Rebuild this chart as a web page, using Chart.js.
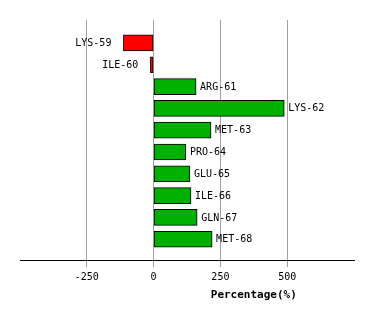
<!DOCTYPE html>
<html>
<head>
<meta charset="utf-8">
<script src="https://cdn.jsdelivr.net/npm/chart.js@4"></script>
<style>
  html, body { margin: 0; padding: 0; background: #fff; }
  canvas { display: block; }
</style>
</head>
<body>
<canvas id="chart" width="374" height="320"></canvas>
<script>
const residues = ['LYS-59', 'ILE-60', 'ARG-61', 'LYS-62', 'MET-63', 'PRO-64', 'GLU-65', 'ILE-66', 'GLN-67', 'MET-68'];
const percentages = [-113, -12, 159, 489, 215, 121, 136, 140, 163, 219];
const tickValues = [-250, 0, 250, 500];
const axisTitle = 'Percentage(%)';

const MONO = '"DejaVu Sans Mono", "Liberation Mono", monospace';

// residue names next to the end of each bar
const barLabels = {
    id: 'barLabels',
    afterDatasetsDraw(chart) {
        const ctx = chart.ctx;
        const meta = chart.getDatasetMeta(0);
        ctx.save();
        ctx.font = '10px ' + MONO;
        ctx.fillStyle = '#000';
        ctx.textBaseline = 'middle';
        meta.data.forEach((bar, i) => {
            if (percentages[i] >= 0) {
                ctx.textAlign = 'left';
                ctx.fillText(residues[i], bar.x + 4, bar.y + 0.5);
            } else {
                ctx.textAlign = 'right';
                ctx.fillText(residues[i], bar.x - 12, bar.y + 0.5);
            }
        });
        ctx.restore();
    },
};

// axis title sits right of centre in the original
const xTitle = {
    id: 'xTitle',
    afterDraw(chart) {
        const { ctx, chartArea } = chart;
        ctx.save();
        ctx.font = 'bold 11px ' + MONO;
        ctx.fillStyle = '#000';
        ctx.textAlign = 'center';
        ctx.textBaseline = 'middle';
        ctx.fillText(axisTitle, chartArea.left + (chartArea.right - chartArea.left) * 0.7, 295);
        ctx.restore();
    },
};

new Chart(document.getElementById('chart'), {
    type: 'bar',
    data: {
        datasets: [{
            data: percentages.map((v, i) => ({ x: v, y: i + 1 })),
            backgroundColor: percentages.map((v) => (v < 0 ? '#ff0000' : '#00b000')),
            borderColor: '#000',
            borderWidth: 1,
            borderSkipped: false,
            barThickness: 16,
        }],
    },
    options: {
        indexAxis: 'y',
        responsive: false,
        animation: false,
        events: [],
        layout: { padding: { left: 20, right: 20, top: 20, bottom: 0 } },
        plugins: {
            legend: { display: false },
            tooltip: { enabled: false },
        },
        scales: {
            y: {
                type: 'linear',
                display: false,
                reverse: true,
                offset: false,
                min: -0.05,
                max: 10.95,
            },
            x: {
                type: 'linear',
                min: -500,
                max: 750,
                afterBuildTicks: (scale) => {
                    scale.ticks = tickValues.map((v) => ({ value: v }));
                },
                afterFit: (scale) => {
                    scale.height = 60;
                },
                grid: { color: '#a0a0a0', lineWidth: 1, tickLength: 7 },
                border: { color: '#000', width: 1 },
                ticks: {
                    color: '#000',
                    font: { family: MONO, size: 10 },
                    padding: 4,
                    maxRotation: 0,
                    autoSkip: false,
                },
            },
        },
    },
    plugins: [barLabels, xTitle],
});
</script>
</body>
</html>
